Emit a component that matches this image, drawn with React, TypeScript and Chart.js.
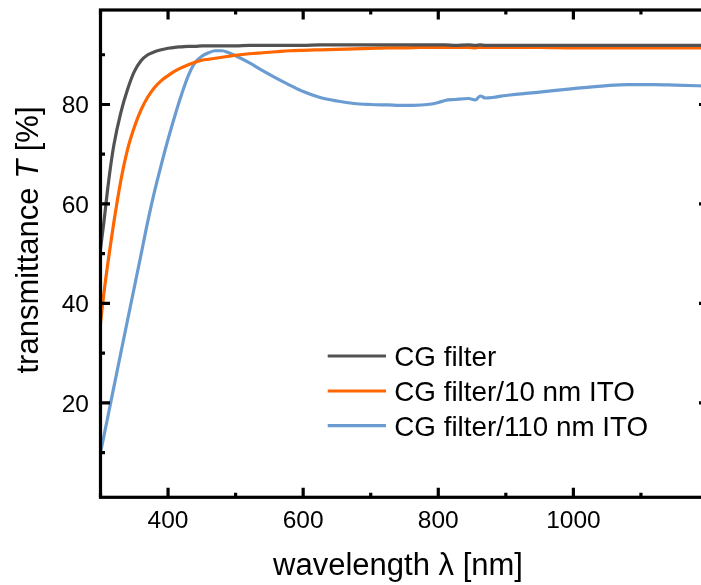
import { useEffect, useRef } from "react";
import { Chart, registerables } from "chart.js";

Chart.register(...registerables);

// ---- data ----
const wavelengths = [
  300, 305, 310, 315, 320, 330, 340, 350, 360, 370, 380, 390, 400, 410, 420, 430, 440, 450, 460, 470,
  480, 490, 500, 520, 540, 560, 580, 600, 625, 650, 675, 700, 725, 750, 775, 790, 800, 810, 825, 845,
  855, 862, 870, 880, 900, 950, 1000, 1050, 1080, 1120, 1150, 1200,
];

const cgFilter = [
  51, 56.3, 62.3, 67.6, 72, 78.3, 83, 86.6, 88.8, 90.0, 90.6, 91.0, 91.3, 91.5, 91.6, 91.7, 91.7, 91.8, 91.8, 91.8,
  91.8, 91.8, 91.8, 91.9, 91.9, 91.9, 91.9, 91.9, 92.0, 92.0, 92.0, 92.0, 92.0, 92.0, 92.0, 92.0, 92.0, 92.0, 91.9, 92.0,
  91.9, 92.0, 91.9, 91.9, 91.9, 91.9, 91.9, 91.9, 91.9, 91.9, 91.9, 91.9,
];

const cgFilterIto10 = [
  36, 42, 47.2, 52, 56.5, 64.6, 70.9, 75.4, 78.9, 81.5, 83.4, 84.8, 85.8, 86.7, 87.4, 88.0, 88.5, 88.9, 89.1, 89.3,
  89.5, 89.7, 89.9, 90.2, 90.4, 90.6, 90.8, 90.9, 91.0, 91.1, 91.2, 91.3, 91.4, 91.4, 91.5, 91.5, 91.5, 91.5, 91.5, 91.5,
  91.4, 91.5, 91.5, 91.5, 91.5, 91.5, 91.4, 91.4, 91.4, 91.4, 91.4, 91.4,
];

const cgFilterIto110 = [
  10, 13.3, 16.6, 20, 23.3, 30, 36.6, 43.2, 49.8, 56.5, 62.5, 67.9, 73.0, 77.7, 82.0, 85.8, 88.4, 89.7, 90.4, 90.8,
  90.8, 90.4, 89.8, 88.4, 86.8, 85.3, 83.9, 82.6, 81.4, 80.7, 80.2, 80.0, 79.9, 79.8, 79.9, 80.1, 80.4, 80.8, 81.0, 81.2,
  80.9, 81.7, 81.3, 81.4, 81.8, 82.5, 83.2, 83.8, 84.0, 84.0, 83.9, 83.7,
];

const seriesLabels = ["CG filter", "CG filter/10 nm ITO", "CG filter/110 nm ITO"];

const xTickValues = [300, 400, 500, 600, 700, 800, 900, 1000, 1100, 1200];
const xTickLabels = ["", "400", "", "600", "", "800", "", "1000", "", ""];
const yTickValues = [10, 20, 30, 40, 50, 60, 70, 80, 90];
const yTickLabels = ["", "20", "", "40", "", "60", "", "80", ""];

const X_MIN = 300;
const X_MAX = 1200;
const Y_MIN = 1;
const Y_MAX = 99;

const FONT = "'Liberation Sans', Arial, sans-serif";
const COLORS = ["rgb(82,82,82)", "rgb(255,102,0)", "rgb(106,156,210)"];

const framePlugin = {
  id: "framePlugin",
  afterDraw(chart: any) {
    const { ctx, chartArea: a } = chart;
    const xs = chart.scales.x;
    const ys = chart.scales.y;
    ctx.save();
    ctx.strokeStyle = "#000";
    ctx.fillStyle = "#000";
    ctx.lineWidth = 3.2;
    ctx.lineCap = "butt";
    ctx.strokeRect(a.left, a.top, a.right - a.left, a.bottom - a.top);

    // x ticks (inward, bottom and top)
    xTickValues.forEach((v) => {
      const px = xs.getPixelForValue(v);
      const major = v % 200 === 0;
      const len = major ? 9.5 : 4.5;
      ctx.beginPath();
      ctx.moveTo(px, a.bottom);
      ctx.lineTo(px, a.bottom - len);
      ctx.moveTo(px, a.top);
      ctx.lineTo(px, a.top + len);
      ctx.stroke();
    });
    // y ticks (inward, left and right)
    yTickValues.forEach((v) => {
      const py = ys.getPixelForValue(v);
      const major = v % 20 === 0;
      const len = major ? 9.5 : 4.5;
      ctx.beginPath();
      ctx.moveTo(a.left, py);
      ctx.lineTo(a.left + len, py);
      ctx.moveTo(a.right, py);
      ctx.lineTo(a.right - len, py);
      ctx.stroke();
    });

    // tick labels
    ctx.font = `24.5px ${FONT}`;
    ctx.textBaseline = "alphabetic";
    ctx.textAlign = "center";
    xTickValues.forEach((v, i) => {
      if (!xTickLabels[i]) return;
      ctx.fillText(xTickLabels[i], xs.getPixelForValue(v), a.bottom + 31);
    });
    ctx.textAlign = "right";
    yTickValues.forEach((v, i) => {
      if (!yTickLabels[i]) return;
      ctx.fillText(yTickLabels[i], a.left - 11.5, ys.getPixelForValue(v) + 8.8);
    });

    // x title
    ctx.font = `31px ${FONT}`;
    ctx.textAlign = "center";
    ctx.fillText("wavelength \u03bb [nm]", 398, 575);

    // y title with italic T
    const parts: [string, string][] = [
      ["transmittance ", `31px ${FONT}`],
      ["T", `italic 31px ${FONT}`],
      [" [%]", `31px ${FONT}`],
    ];
    let total = 0;
    parts.forEach(([t, f]) => {
      ctx.font = f;
      total += ctx.measureText(t).width;
    });
    ctx.translate(38, 240);
    ctx.rotate(-Math.PI / 2);
    ctx.textAlign = "left";
    let cx = -total / 2;
    parts.forEach(([t, f]) => {
      ctx.font = f;
      ctx.fillText(t, cx, 0);
      cx += ctx.measureText(t).width;
    });
    ctx.setTransform(1, 0, 0, 1, 0, 0);

    // legend
    const rowY = [356, 391, 425.7];
    chart.data.datasets.forEach((ds: any, i: number) => {
      ctx.strokeStyle = ds.borderColor;
      ctx.lineWidth = 3.2;
      ctx.beginPath();
      ctx.moveTo(327.7, rowY[i]);
      ctx.lineTo(386, rowY[i]);
      ctx.stroke();
      ctx.fillStyle = "#000";
      ctx.font = `27.8px ${FONT}`;
      ctx.textAlign = "left";
      ctx.fillText(ds.label, 394.3, rowY[i] + 10);
    });
    ctx.restore();
  },
};

export default function App() {
  const ref = useRef<HTMLCanvasElement | null>(null);

  useEffect(() => {
    if (!ref.current) return;
    const series = [cgFilter, cgFilterIto10, cgFilterIto110];
    const chart = new Chart(ref.current, {
      type: "line",
      data: {
        datasets: series.map((arr, si) => ({
          label: seriesLabels[si],
          data: wavelengths.map((w, i) => ({ x: w, y: arr[i] })),
          borderColor: COLORS[si],
          backgroundColor: COLORS[si],
          borderWidth: 3.2,
          pointRadius: 0,
          cubicInterpolationMode: "monotone" as const,
          fill: false,
        })),
      },
      options: {
        responsive: false,
        devicePixelRatio: 1,
        animation: false,
        layout: { padding: { left: 100.5, right: 11.5, top: 10, bottom: 87.7 } },
        plugins: { legend: { display: false }, tooltip: { enabled: false } },
        events: [],
        scales: {
          x: { type: "linear", min: X_MIN, max: X_MAX, display: false },
          y: { type: "linear", min: Y_MIN, max: Y_MAX, display: false },
        },
      },
      plugins: [framePlugin],
    });
    return () => chart.destroy();
  }, []);

  return (
    <div
      style={{
        position: "fixed",
        left: 0,
        top: 0,
        width: 701,
        height: 585,
        overflow: "hidden",
        background: "#fff",
      }}
    >
      <canvas ref={ref} width={720} height={585} style={{ display: "block" }} />
    </div>
  );
}
